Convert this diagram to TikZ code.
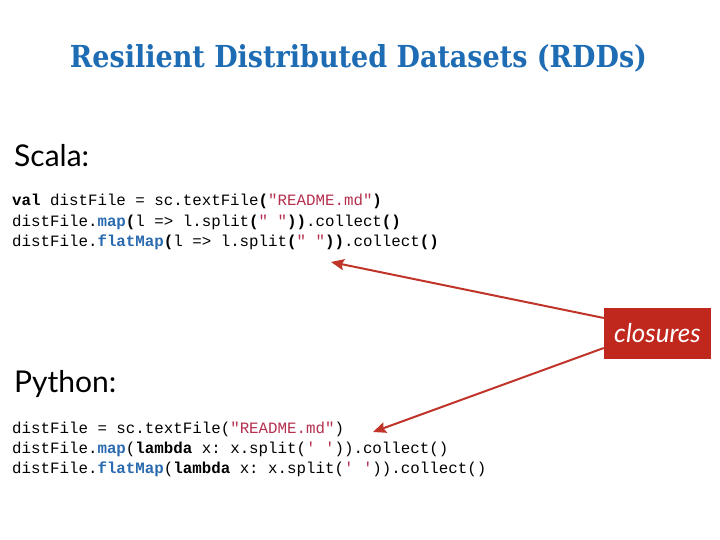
\documentclass[tikz,border=0pt]{standalone}
\usepackage{fontspec}
\usepackage{graphicx}
\setmainfont{Liberation Serif}
\newfontfamily\titlefont{DejaVu Serif}
\newfontfamily\labelfont{Lato}
\newfontfamily\codefont{Liberation Mono}
\usetikzlibrary{arrows.meta}
\definecolor{titleblue}{HTML}{1E6CB4}
\definecolor{kwblue}{HTML}{2A6AB0}
\definecolor{strred}{HTML}{B5304E}
\definecolor{boxred}{HTML}{C0281E}
\definecolor{arrred}{HTML}{C0342A}
\newcommand{\kw}[1]{\textbf{#1}}
\newcommand{\fn}[1]{\textcolor{kwblue}{\textbf{#1}}}
\newcommand{\str}[1]{\textcolor{strred}{#1}}
\frenchspacing
\tikzset{
  code/.style={anchor=base west, inner sep=0pt, font=\codefont\frenchspacing\fontsize{15.8}{18}\selectfont},
  lang/.style={anchor=base west, inner sep=0pt, font=\labelfont\fontsize{30}{36}\selectfont},
  tag/.style={fill=boxred, text=white, minimum width=107pt, minimum height=51pt, inner sep=0pt,
    font=\labelfont\itshape\fontsize{26}{30}\selectfont},
  callout/.style={draw=arrred, line width=2pt, -{Stealth[length=13pt,width=11pt,inset=2pt]}}
}
\begin{document}
\begin{tikzpicture}[x=1pt,y=-1pt]
\useasboundingbox[fill=white] (0,0) rectangle (720,540);
\node[anchor=base, inner sep=0pt, text=titleblue] (title) at (358.5,68)
  {\resizebox{577pt}{23pt}{\titlefont\bfseries Resilient Distributed Datasets (RDDs)}};
\node[lang] (scala) at (14,167) {Scala:};
\node[code] (s1) at (12,206) {\kw{val} distFile = sc.textFile\kw{(}\str{"README.md"}\kw{)}};
\node[code] (s2) at (12,226) {distFile.\fn{map}\kw{(}l => l.split\kw{(}\str{" "}\kw{))}.collect\kw{()}};
\node[code] (s3) at (12,246) {distFile.\fn{flatMap}\kw{(}l => l.split\kw{(}\str{" "}\kw{))}.collect\kw{()}};
\node[lang] (python) at (14,392) {Python:};
\node[code] (p1) at (12,433) {distFile = sc.textFile(\str{"README.md"})};
\node[code] (p2) at (12,453) {distFile.\fn{map}(\kw{lambda} x: x.split(\str{' '})).collect()};
\node[code] (p3) at (12,473) {distFile.\fn{flatMap}(\kw{lambda} x: x.split(\str{' '})).collect()};
\node[tag] (cl) at (657.5,333.5) {closures};
\coordinate (t1) at (331,262);
\coordinate (t2) at (373,432);
\draw[callout] ([yshift=15.5pt]cl.west) -- (t1);
\draw[callout] ([yshift=-14.5pt]cl.west) -- (t2);
\end{tikzpicture}
\end{document}
